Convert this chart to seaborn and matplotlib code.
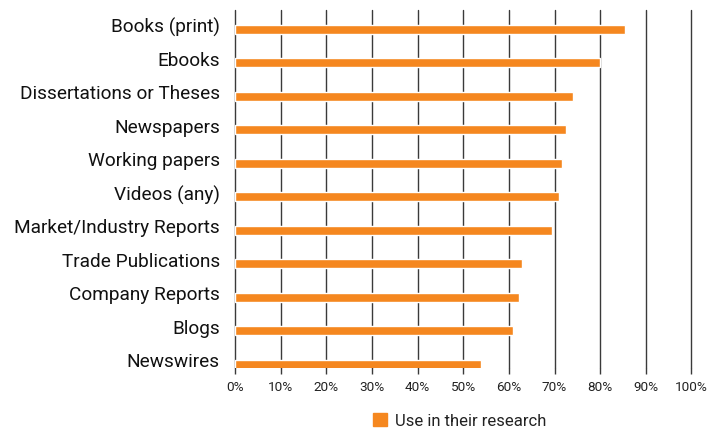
import pandas as pd
import matplotlib.pyplot as plt
import matplotlib.transforms as mtransforms
import seaborn as sns
from matplotlib.patches import Patch
from matplotlib.ticker import PercentFormatter

sources = ["Books (print)", "Ebooks", "Dissertations or Theses", "Newspapers",
           "Working papers", "Videos (any)", "Market/Industry Reports",
           "Trade Publications", "Company Reports", "Blogs", "Newswires"]
use_pct = [85.5, 79.9, 74.1, 72.5, 71.6, 71.0, 69.5, 62.9, 62.2, 60.9, 53.9]
x_ticks = list(range(0, 101, 10))
series_name = "Use in their research"

orange = "#F5871F"

sns.set_theme(style="white")
plt.rcParams['font.family'] = ['Roboto', 'DejaVu Sans']

df = pd.DataFrame({"source": sources, "pct": use_pct})

fig = plt.figure(figsize=(7.21, 4.29), dpi=100)
ax = fig.add_axes([0.326, 0.142, 0.633, 0.835])

# grid lines drawn first so bars sit on top
for t in x_ticks:
    ax.axvline(t, color="#3a3a3a", lw=1.0, zorder=0, clip_on=False)

sns.barplot(data=df, x="pct", y="source", color=orange, width=0.27,
            saturation=1, ax=ax, zorder=2)

ax.set_xlim(0, 100)
ax.set_ylim(10.11, -0.58)
ax.set_xticks(x_ticks)
ax.xaxis.set_major_formatter(PercentFormatter(decimals=0))
ax.set_xlabel("")
ax.set_ylabel("")
for s in ax.spines.values():
    s.set_visible(False)

ax.tick_params(axis="x", length=4, width=1.0, color="#3a3a3a", labelsize=9.7,
               pad=5, labelcolor="#222222", bottom=True)
ax.tick_params(axis="y", length=0, labelsize=13.7, pad=11, labelcolor="#111111")
# category labels sit a little above their bars in the original
shift = mtransforms.ScaledTranslation(0, 4 / 100, fig.dpi_scale_trans)
for lbl in ax.get_yticklabels():
    lbl.set_va("center_baseline")
    lbl.set_transform(lbl.get_transform() + shift)

fig.legend(handles=[Patch(color=orange, label=series_name)],
           loc="center", bbox_to_anchor=(460 / 721, 1 - 421 / 429),
           frameon=False, fontsize=12, handlelength=0.8, handleheight=0.8,
           handletextpad=0.5, labelcolor="#222222")

fig.savefig("out.png", dpi=100)
